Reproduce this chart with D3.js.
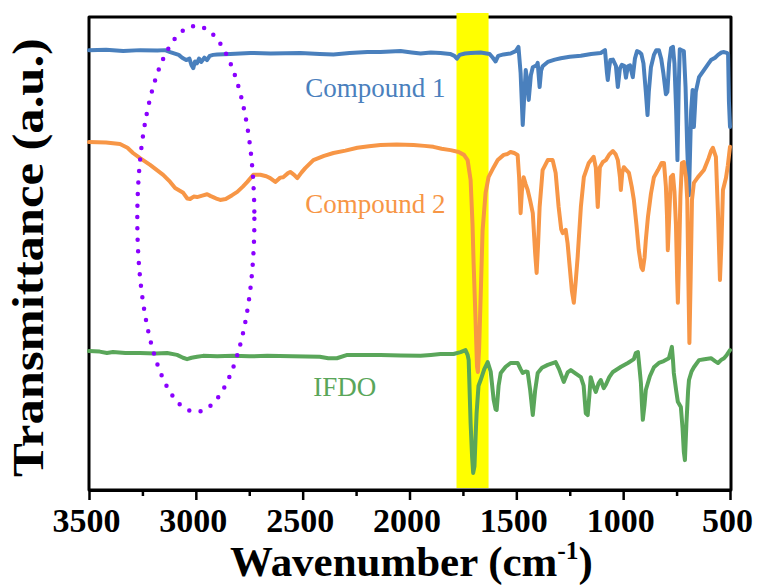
<!DOCTYPE html>
<html><head><meta charset="utf-8">
<script src="https://cdn.jsdelivr.net/npm/d3@7"></script>
<style>html,body{margin:0;padding:0;background:#fff;} svg{display:block;}</style>
</head><body><svg id="chart" width="761" height="585"></svg>
<script>
// ---- data: [wavenumber (cm-1), transmittance (a.u.)] ----
const compound1 = [[3500,92.8],[3420,92.9],[3340,92.6],[3260,92.8],[3180,92.7],[3144,92.8],[3120,92.4],[3080,91.8],[3064,91.2],[3045,90.7],[3030,91.0],[3020,89.6],[3012,89.0],[3004,90.4],[2995,90.0],[2985,91.0],[2975,90.3],[2960,91.2],[2948,90.7],[2935,91.6],[2919,91.8],[2900,91.9],[2839,92.0],[2745,92.2],[2650,92.1],[2511,92.2],[2420,92.0],[2356,91.9],[2280,92.2],[2197,92.4],[2136,92.4],[2042,92.6],[1990,92.3],[1948,92.1],[1900,92.3],[1855,92.2],[1810,92.0],[1790,91.6],[1778,91.0],[1765,91.8],[1740,92.1],[1714,92.2],[1667,92.3],[1625,92.0],[1610,91.2],[1597,90.4],[1585,91.6],[1560,91.9],[1527,92.1],[1503,92.6],[1490,93.5],[1480,88],[1470,77.0],[1462,84],[1456,88.6],[1448,86],[1442,82.3],[1432,87.5],[1423,89.2],[1405,89.6],[1400,90.1],[1391,85.0],[1384,88.5],[1377,89.4],[1353,90.3],[1320,90.8],[1292,91.1],[1250,91.4],[1198,91.6],[1150,92.0],[1105,92.2],[1085,92.8],[1076,88],[1072,86.5],[1066,89],[1060,90.7],[1048,90.8],[1034,89.5],[1025,85.0],[1015,89],[1006,89.7],[995,89.5],[987,87.0],[978,89.4],[968,89.6],[955,87.1],[945,91],[935,92.6],[925,92.4],[915,92.0],[905,90],[894,84],[886,79.1],[880,84],[870,89.2],[856,91.8],[845,92.8],[833,92.8],[822,91],[812,88],[800,83.5],[793,84],[785,90],[776,93.2],[767,93.5],[760,90],[752,80],[746,69.6],[740,85],[735,93.0],[728,92.8],[716,92.6],[708,85],[700,72],[692,62.2],[682,80],[675,84.4],[669,76.6],[660,84],[645,87.1],[622,88.6],[600,90],[589,90.7],[570,91.2],[556,91.8],[540,92.3],[528,92.4],[515,92.2],[509,92.0],[505,82],[500,76.6]];

const compound2 = [[3500,73.4],[3420,73.3],[3355,73.0],[3320,72.2],[3294,71.1],[3261,70.0],[3214,68.6],[3153,66.5],[3120,65],[3097,63.7],[3059,62.7],[3040,61.5],[3027,61.4],[3010,61.9],[2994,61.8],[2970,62.1],[2947,62.4],[2930,62.0],[2919,61.8],[2900,61.4],[2886,61.2],[2860,61.4],[2830,62.2],[2806,62.9],[2780,64],[2759,65.0],[2731,66.5],[2698,66.5],[2670,66.2],[2652,65.8],[2628,65.0],[2605,65.9],[2591,66.0],[2570,66.8],[2558,67.1],[2540,66.5],[2525,65.8],[2505,67],[2488,67.9],[2450,69.6],[2400,70.5],[2356,71.1],[2300,71.6],[2244,72.2],[2190,72.5],[2136,72.8],[2060,72.9],[1981,72.8],[1930,72.6],[1888,72.4],[1850,72.0],[1808,71.7],[1770,71.3],[1745,70.7],[1728,69.6],[1714,65.4],[1705,56],[1700,47.9],[1691,36],[1684,26],[1680,24.9],[1674,30],[1667,40.7],[1658,54.7],[1644,62.7],[1630,66.0],[1606,68.1],[1587,69.6],[1559,70.7],[1541,70.9],[1527,71.3],[1510,71.1],[1494,70.7],[1487,66],[1480,58.4],[1474,63],[1466,66.0],[1456,64.5],[1447,63.3],[1435,61],[1423,58.4],[1412,50],[1405,45.8],[1398,52],[1391,59.7],[1377,67.5],[1353,69.6],[1330,69.6],[1316,66.9],[1302,59.7],[1290,55],[1283,54.2],[1269,54.9],[1260,52],[1250,47],[1240,42],[1231,39.5],[1222,44],[1213,49.2],[1198,59.7],[1184,66.0],[1161,69.0],[1138,70.3],[1128,68],[1119,59.7],[1109,68.1],[1095,69.2],[1081,69.6],[1065,70.8],[1048,71.5],[1035,70.8],[1025,69.6],[1015,66],[1011,63.3],[1004,67],[997,68.1],[985,67.5],[973,66.9],[960,64],[950,61.2],[938,56],[927,50.6],[915,47],[908,46.4],[900,49],[894,52.7],[884,57.6],[870,62.5],[856,66.0],[837,67.5],[820,69.0],[809,69.0],[800,64],[795,58],[791,50.6],[786,56],[777,66.0],[767,66.5],[760,63],[753,56],[747,44],[744,39.5],[738,50],[732,62],[725,69.0],[716,69.2],[706,66],[700,61.2],[695,45],[690,31.0],[684,45],[678,61.2],[669,64.8],[650,66.0],[622,67.5],[600,70],[589,71.5],[580,72.2],[566,70.3],[556,58],[547,44.3],[540,52],[533,63.3],[519,65.8],[510,68.5],[500,72.4]];

const ifdo = [[3500,29.3],[3450,29.2],[3416,28.9],[3388,29.1],[3330,28.9],[3261,28.9],[3190,28.8],[3134,28.9],[3088,28.5],[3060,27.9],[3041,27.6],[3020,27.9],[2994,28.1],[2966,28.3],[2900,28.2],[2825,28.3],[2750,28.2],[2666,28.3],[2550,28.2],[2420,28.1],[2380,27.8],[2340,27.8],[2291,28.5],[2200,28.5],[2136,28.5],[2040,28.4],[1948,28.3],[1900,28.5],[1855,28.7],[1794,28.7],[1761,29.1],[1738,29.5],[1728,28.5],[1723,27.4],[1714,14.1],[1707,7],[1702,3.6],[1696,5],[1690,12],[1686,16.2],[1677,22],[1667,23.2],[1650,25.5],[1634,27.0],[1620,25],[1606,19.0],[1597,17],[1592,16.9],[1583,22],[1573,24.7],[1550,26],[1527,26.8],[1494,26.8],[1480,25.5],[1470,24.7],[1456,25],[1447,24.9],[1435,21],[1423,15.8],[1412,21],[1400,24.7],[1380,25.8],[1353,26.4],[1316,27.0],[1300,25.5],[1278,22.8],[1260,24.8],[1245,25.3],[1220,24.5],[1198,23.8],[1185,22],[1175,16.2],[1166,15.8],[1158,20],[1152,23.8],[1140,22],[1128,20.7],[1115,22.5],[1105,23.2],[1091,21.5],[1081,22.2],[1065,23.8],[1048,24.9],[1010,26],[978,26.8],[950,27.6],[941,28.9],[931,29.1],[922,25],[917,22.6],[912,18],[908,14.8],[900,18],[894,21.1],[875,24],[856,25.9],[833,26.8],[810,27.2],[786,27.8],[776,29.5],[772,30.2],[767,27.5],[763,24.7],[752,21],[744,18.6],[730,17.5],[722,13],[716,8],[711,6.3],[704,14],[696,21],[692,23.2],[680,25],[669,25.9],[645,27.4],[620,27.6],[589,27.8],[570,27.2],[556,26.8],[540,27.5],[528,27.8],[515,28.5],[500,29.5]];

const seriesNames = ["Compound 1", "Compound 2", "IFDO"];
const seriesColors = ["#4a80bd", "#f79646", "#5aa65a"];
const labelAnchors = [[2488, 82.9], [2488, 58.4], [2450, 19.8]]; // [wavenumber, a.u.] of label start/baseline
const majorTicks = [3500, 3000, 2500, 2000, 1500, 1000, 500];
const minorTicks = [3250, 2750, 2250, 1750, 1250, 750];
const highlightBand = [1780, 1630];           // cm-1, yellow C=O band
const ellipseRegion = {wn: 3000, halfWn: 274, t: 57.2, halfT: 40.7}; // dotted C-H region

// ---- drawing ----
const svg = d3.select("#chart");
const x = d3.scaleLinear().domain([3500, 500]).range([89, 730]);
const y = d3.scaleLinear().domain([0, 100]).range([490, 16]);
const serif = "'Liberation Serif','Times New Roman',Times,serif";

// frame
svg.append("rect").attr("x", 89).attr("y", 17).attr("width", 642).attr("height", 473)
  .attr("fill", "none").attr("stroke", "#000").attr("stroke-width", 3).attr("stroke-linejoin", "round");

// yellow band
svg.append("rect")
  .attr("x", x(highlightBand[0])).attr("width", x(highlightBand[1]) - x(highlightBand[0]))
  .attr("y", 13).attr("height", 488 - 13).attr("fill", "#ffff00");

// curves
const line = d3.line().x(d => x(d[0])).y(d => y(d[1]));
[compound1, compound2, ifdo].forEach((s, i) => {
  svg.append("path").datum(s).attr("d", line).attr("fill", "none")
    .attr("stroke", seriesColors[i]).attr("stroke-width", 4)
    .attr("stroke-linejoin", "round").attr("stroke-linecap", "round");
});

// dotted ellipse
svg.append("ellipse")
  .attr("cx", x(ellipseRegion.wn)).attr("cy", y(ellipseRegion.t))
  .attr("rx", x(ellipseRegion.wn - ellipseRegion.halfWn) - x(ellipseRegion.wn))
  .attr("ry", y(ellipseRegion.t - ellipseRegion.halfT) - y(ellipseRegion.t))
  .attr("fill", "none").attr("stroke", "#8a00ff").attr("stroke-width", 4.5)
  .attr("stroke-dasharray", "0 11.5").attr("stroke-linecap", "round");

// series labels
seriesNames.forEach((n, i) => {
  svg.append("text").attr("x", x(labelAnchors[i][0])).attr("y", y(labelAnchors[i][1]))
    .attr("fill", seriesColors[i]).style("font-family", serif).style("font-size", "27px")
    .text(n);
});

// x axis
const gMinor = svg.append("g").attr("transform", "translate(0,490)")
  .call(d3.axisBottom(x).tickValues(minorTicks).tickSize(6).tickFormat(""));
gMinor.select(".domain").remove();
gMinor.selectAll("line").attr("stroke", "#000").attr("stroke-width", 2.5);

const gx = svg.append("g").attr("transform", "translate(0,490)")
  .call(d3.axisBottom(x).tickValues(majorTicks).tickSize(10).tickSizeOuter(0).tickFormat(d3.format("d")));
gx.select(".domain").attr("stroke", "#000").attr("stroke-width", 3);
gx.selectAll(".tick line").attr("stroke", "#000").attr("stroke-width", 2.5);
gx.selectAll(".tick text").attr("y", 42).attr("dy", 0).attr("dx", -3)
  .style("font-family", serif).style("font-size", "34px").style("font-weight", "bold").attr("fill", "#000");

// axis titles (fitted to the reference's extents)
const gxt = svg.append("g");
const xt = gxt.append("text").attr("x", 0).attr("y", 0).attr("text-anchor", "middle")
  .style("font-family", serif).style("font-size", "42px").style("font-weight", "bold");
xt.append("tspan").text("Wavenumber (cm");
xt.append("tspan").attr("dy", -17).style("font-size", "25px").text("-1");
xt.append("tspan").attr("dy", 17).text(")");
const xtW = xt.node().getBBox().width;
gxt.attr("transform", `translate(411.5,576) scale(${363 / xtW},1)`);

const gyt = svg.append("g");
const yt = gyt.append("text").attr("x", 0).attr("y", 0).attr("text-anchor", "middle")
  .style("font-family", serif).style("font-size", "45px").style("font-weight", "bold")
  .text("Transmittance (a.u.)");
const ytW = yt.node().getBBox().width;
gyt.attr("transform", `translate(43,257.5) rotate(-90) scale(${439 / ytW},1)`);
</script></body></html>
